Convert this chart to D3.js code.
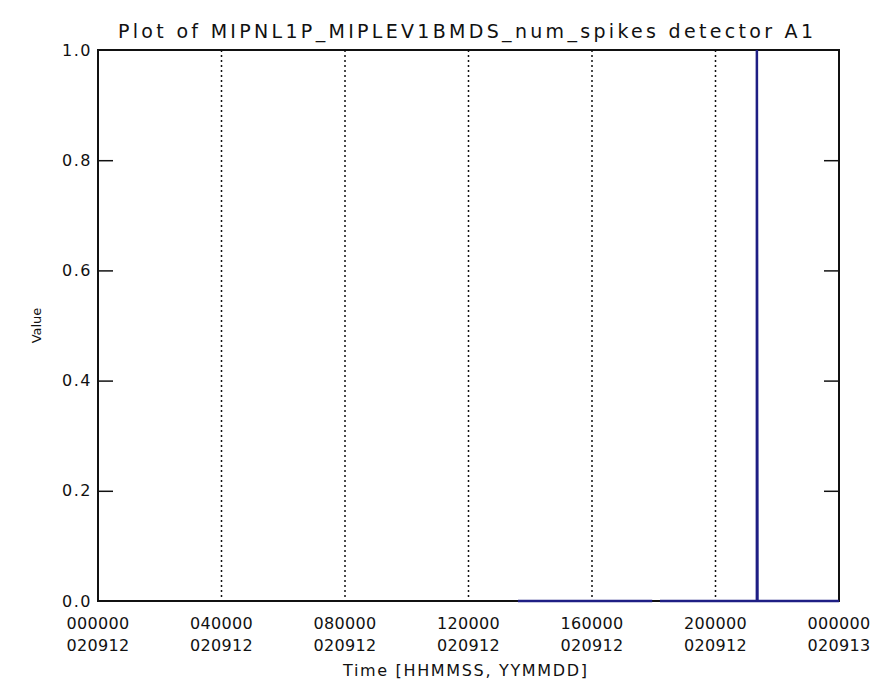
<!DOCTYPE html>
<html>
<head>
<meta charset="utf-8">
<script src="https://cdn.jsdelivr.net/npm/d3@7"></script>
<style>
  body { margin: 0; background: #fff; }
  svg text { font-family: "DejaVu Sans", sans-serif; fill: #111; }
</style>
</head>
<body>
<svg id="chart" width="889" height="698"></svg>
<script>
// time ticks (hours since 020912 000000) and their two-line labels
var tickHours = [0, 4, 8, 12, 16, 20, 24];
var tickTimes = ["000000", "040000", "080000", "120000", "160000", "200000", "000000"];
var tickDates = ["020912", "020912", "020912", "020912", "020912", "020912", "020913"];
var yTicks = [0, 0.2, 0.4, 0.6, 0.8, 1.0];

// num_spikes series, null marks a data gap
var sampleHours = [13.6, 17.95, null, 18.2, 21.34, 21.34, 21.36, 24];
var sampleValues = [0, 0, null, 0, 0, 1, 0, 0];

var svg = d3.select("#chart"),
    margin = {top: 50, right: 50, bottom: 97, left: 98},
    width = 889 - margin.left - margin.right,
    height = 698 - margin.top - margin.bottom,
    g = svg.append("g").attr("transform", "translate(" + margin.left + "," + margin.top + ")");

var x = d3.scaleLinear().domain([0, 24]).range([0, width]);
var y = d3.scaleLinear().domain([0, 1]).range([height, 0]);

// dotted vertical grid at the inner time ticks
g.selectAll(".grid")
    .data(tickHours.slice(1, -1))
    .enter().append("line")
    .attr("class", "grid")
    .attr("x1", function (d) { return x(d); })
    .attr("x2", function (d) { return x(d); })
    .attr("y1", 0)
    .attr("y2", height)
    .attr("stroke", "#111")
    .attr("stroke-width", 1.5)
    .attr("stroke-dasharray", "2,3");

// left and right axes, ticks pointing inward
g.append("g")
    .attr("class", "y axis")
    .call(d3.axisRight(y).tickValues(yTicks.slice(1, -1)).tickSize(15).tickFormat(""))
    .call(function (a) { a.select(".domain").remove(); })
    .selectAll("line").attr("stroke", "#111").attr("stroke-width", 1.5);

g.append("g")
    .attr("class", "y axis right")
    .attr("transform", "translate(" + width + ",0)")
    .call(d3.axisLeft(y).tickValues(yTicks.slice(1, -1)).tickSize(15).tickFormat(""))
    .call(function (a) { a.select(".domain").remove(); })
    .selectAll("line").attr("stroke", "#111").attr("stroke-width", 1.5);

// frame
g.append("rect")
    .attr("x", 0).attr("y", 0)
    .attr("width", width).attr("height", height)
    .attr("fill", "none")
    .attr("stroke", "#111")
    .attr("stroke-width", 2);

// y labels
g.selectAll(".ylab")
    .data(yTicks)
    .enter().append("text")
    .attr("class", "ylab")
    .attr("x", -6)
    .attr("y", function (d) { return y(d); })
    .attr("dy", "0.35em")
    .attr("text-anchor", "end")
    .style("font-size", "16px")
    .style("letter-spacing", "1.5px")
    .text(function (d) { return d3.format(".1f")(d); });

// x labels, two lines each
var xlab = g.selectAll(".xlab")
    .data(tickHours)
    .enter().append("text")
    .attr("class", "xlab")
    .attr("text-anchor", "middle")
    .style("font-size", "16px")
    .style("letter-spacing", "0.3px");

xlab.append("tspan")
    .attr("x", function (d) { return x(d); })
    .attr("y", height + 28)
    .text(function (d, i) { return tickTimes[i]; });
xlab.append("tspan")
    .attr("x", function (d) { return x(d); })
    .attr("y", height + 50)
    .text(function (d, i) { return tickDates[i]; });

// data line
var series = sampleHours.map(function (h, i) { return {h: h, v: sampleValues[i]}; });
var line = d3.line()
    .defined(function (d) { return d.h !== null && d.v !== null; })
    .x(function (d) { return x(d.h); })
    .y(function (d) { return y(d.v); });

g.append("path")
    .datum(series)
    .attr("fill", "none")
    .attr("stroke", "#1e1e84")
    .attr("stroke-width", 2.5)
    .attr("d", line);

// titles
svg.append("text")
    .attr("x", 118)
    .attr("y", 38)
    .attr("textLength", 695)
    .attr("lengthAdjust", "spacing")
    .style("font-size", "19px")
    .text("Plot of MIPNL1P_MIPLEV1BMDS_num_spikes detector A1");

svg.append("text")
    .attr("x", 343)
    .attr("y", 676)
    .attr("textLength", 244)
    .attr("lengthAdjust", "spacing")
    .style("font-size", "16px")
    .text("Time [HHMMSS, YYMMDD]");

svg.append("text")
    .attr("transform", "translate(41," + (margin.top + height / 2) + ") rotate(-90)")
    .attr("text-anchor", "middle")
    .style("font-size", "13px")
    .text("Value");
</script>
</body>
</html>
